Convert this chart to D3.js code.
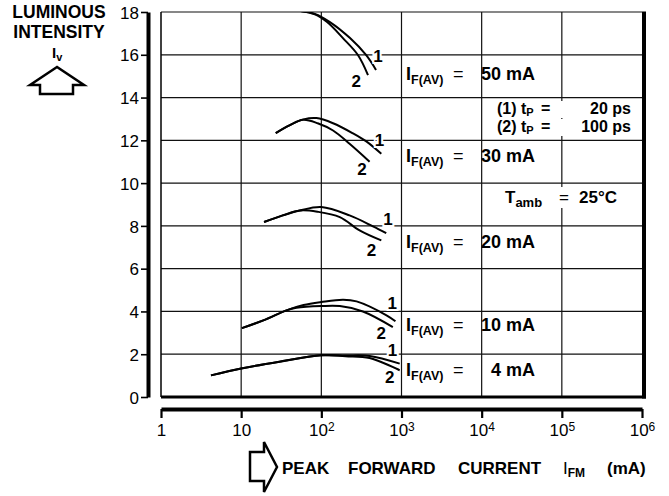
<!DOCTYPE html>
<html>
<head>
<meta charset="utf-8">
<script src="https://cdn.jsdelivr.net/npm/d3@7"></script>
<style>
  body { margin: 0; background: #fff; }
  text { font-family: 'Liberation Sans', Arial, sans-serif; fill: #000; }
</style>
</head>
<body>
<svg id="one" width="669" height="496"></svg>
<script>
// data: [peak forward current mA, luminous intensity]
const yTicks = [0, 2, 4, 6, 8, 10, 12, 14, 16, 18];
const xTicks = [1, 10, 1e2, 1e3, 1e4, 1e5, 1e6];
const xTickLabels = [['1', ''], ['10', ''], ['10', '2'], ['10', '3'], ['10', '4'], ['10', '5'], ['10', '6']];

const currents = ['50', '30', '20', '10', '4'];

const curve50_1 = [[54, 18.05], [83, 17.91], [128, 17.53], [228, 16.78], [361, 15.99], [481, 15.29]];
const curve50_2 = [[54, 18.05], [83, 17.89], [118, 17.53], [186, 16.78], [286, 15.99], [382, 15.05]];
const curve30_1 = [[27, 12.34], [40, 12.7], [60, 12.98], [87, 13.04], [140, 12.8], [250, 12.32], [364, 11.95], [560, 11.37]];
const curve30_2 = [[27, 12.34], [40, 12.7], [59, 12.96], [90, 12.8], [140, 12.46], [225, 11.84], [400, 11.0]];
const curve20_1 = [[19.3, 8.18], [33, 8.49], [54, 8.72], [100, 8.88], [225, 8.49], [440, 7.98], [645, 7.66]];
const curve20_2 = [[19.3, 8.18], [33, 8.49], [54, 8.72], [90, 8.66], [170, 8.41], [300, 7.79], [560, 7.32]];
const curve10_1 = [[10.2, 3.22], [20, 3.62], [36.7, 4.05], [60, 4.3], [100, 4.44], [187, 4.55], [275, 4.47], [650, 3.82], [840, 3.54]];
const curve10_2 = [[10.2, 3.22], [20, 3.62], [36.7, 4.05], [49, 4.17], [100, 4.25], [170, 4.25], [330, 4.0], [780, 3.27]];
const curve4_1 = [[4.2, 1.01], [10, 1.33], [30, 1.65], [100, 1.95], [200, 1.94], [400, 1.92], [950, 1.56]];
const curve4_2 = [[4.2, 1.01], [10, 1.33], [30, 1.65], [100, 1.95], [200, 1.9], [400, 1.82], [950, 1.25]];

// curve number labels: [text, current, intensity]
const curveLabels = [
  ['1', 508, 15.97], ['2', 273, 14.8],
  ['1', 533, 12.0], ['2', 321, 10.67],
  ['1', 676, 8.34], ['2', 421, 6.86],
  ['1', 768, 4.38], ['2', 560, 2.98],
  ['1', 774, 2.18], ['2', 711, 0.93]
];
// I_F(AV) label baselines, in intensity units
const currentLabelLevel = [14.8, 11.0, 6.95, 3.08, 1.0];

const svg = d3.select('#one');

const xScale = d3.scaleLog().domain([1, 1e6]).range([161, 642]);
const yScale = d3.scaleLinear().domain([0, 18]).range([397, 12]);

// grid
svg.append('g').selectAll('line')
    .data(xTicks.slice(1, -1))
    .enter().append('line')
    .attr('x1', d => xScale(d)).attr('x2', d => xScale(d))
    .attr('y1', yScale(0)).attr('y2', yScale(18))
    .style('stroke', '#111').style('stroke-width', 1.2);

svg.append('g').selectAll('line')
    .data(yTicks.slice(1))
    .enter().append('line')
    .attr('x1', xScale(1)).attr('x2', xScale(1e6))
    .attr('y1', d => yScale(d)).attr('y2', d => yScale(d))
    .style('stroke', '#111').style('stroke-width', 1.2);

// frame
svg.append('line')
    .attr('x1', xScale(1)).attr('x2', xScale(1))
    .attr('y1', yScale(18)).attr('y2', yScale(0))
    .style('stroke', '#000').style('stroke-width', 1.5);
svg.append('line')
    .attr('x1', xScale(1e6) + 2).attr('x2', xScale(1e6) + 2)
    .attr('y1', yScale(18) - 0.5).attr('y2', yScale(0) + 1.5)
    .style('stroke', '#000').style('stroke-width', 4);
svg.append('line')
    .attr('x1', xScale(1)).attr('x2', xScale(1e6) + 4)
    .attr('y1', yScale(0)).attr('y2', yScale(0))
    .style('stroke', '#000').style('stroke-width', 3);

// y axis
const yAxis = svg.append('g')
    .attr('transform', 'translate(148,0)')
    .call(d3.axisLeft(yScale).tickValues(yTicks).tickSize(7).tickSizeOuter(0).tickPadding(2));
yAxis.select('.domain').style('stroke', '#000').style('stroke-width', 4);
yAxis.selectAll('.tick line').style('stroke', '#000').style('stroke-width', 1.6);
yAxis.selectAll('.tick text')
    .style('font-size', '17px')
    .attr('dy', '0.36em');

// x axis
const xAxis = svg.append('g')
    .attr('transform', 'translate(0,409)')
    .call(d3.axisBottom(xScale).tickValues(xTicks).tickSize(9).tickSizeOuter(0).tickPadding(6).tickFormat(''));
xAxis.select('.domain').style('stroke', '#000').style('stroke-width', 4);
xAxis.selectAll('.tick line').style('stroke', '#000').style('stroke-width', 2.2);
xAxis.selectAll('.tick text')
    .data(xTickLabels)
    .style('font-size', '17px')
    .attr('dy', '0.71em')
    .each(function(d) {
        const t = d3.select(this);
        t.append('tspan').text(d[0]);
        if (d[1]) t.append('tspan').attr('dy', '-0.4em').style('font-size', '12px').text(d[1]);
    });

// curves
const clip = svg.append('clipPath').attr('id', 'plot');
clip.append('rect')
    .attr('x', xScale(1)).attr('y', yScale(18))
    .attr('width', xScale(1e6) - xScale(1)).attr('height', yScale(0) - yScale(18));

const line = d3.line()
    .x(d => xScale(d[0]))
    .y(d => yScale(d[1]))
    .curve(d3.curveCatmullRom.alpha(0.5));

const curves = [curve50_1, curve50_2, curve30_1, curve30_2, curve20_1, curve20_2,
                curve10_1, curve10_2, curve4_1, curve4_2];

svg.append('g').attr('clip-path', 'url(#plot)')
    .selectAll('path')
    .data(curves)
    .enter().append('path')
    .attr('d', line)
    .style('fill', 'none')
    .style('stroke', '#000')
    .style('stroke-width', 2);

svg.append('g').selectAll('text')
    .data(curveLabels)
    .enter().append('text')
    .attr('x', d => xScale(d[1]))
    .attr('y', d => yScale(d[2]))
    .attr('dy', '0.36em')
    .style('text-anchor', 'middle')
    .style('font-size', '17px')
    .style('font-weight', 'bold')
    .style('stroke', '#fff').style('stroke-width', 4)
    .style('paint-order', 'stroke')
    .text(d => d[0]);

// I_F(AV) labels
const ifLabels = svg.append('g').selectAll('g')
    .data(currents)
    .enter().append('g')
    .attr('transform', (d, i) => 'translate(0,' + yScale(currentLabelLevel[i]) + ')')
    .style('font-weight', 'bold');
ifLabels.append('text')
    .attr('x', 406)
    .style('font-size', '18px')
    .each(function() {
        const t = d3.select(this);
        t.append('tspan').text('I');
        t.append('tspan').attr('dy', 4).style('font-size', '12.5px').text('F(AV)');
        t.append('tspan').attr('x', 453).attr('dy', -4).style('font-weight', 'normal').text('=');
    });
ifLabels.append('text')
    .attr('x', 535)
    .style('text-anchor', 'end')
    .style('font-size', '18px')
    .text(d => d + ' mA');

// pulse width legend
const legendRows = [['(1)', '20 ps'], ['(2)', '100 ps']];
const legend = svg.append('g').selectAll('g')
    .data(legendRows)
    .enter().append('g')
    .attr('transform', (d, i) => 'translate(0,' + (114 + i * 18) + ')')
    .style('font-weight', 'bold')
    .style('font-size', '16px');
legend.append('rect')
    .attr('x', 494).attr('y', -13).attr('width', 140).attr('height', 17)
    .style('fill', '#fff');
legend.append('text')
    .attr('x', 497)
    .each(function(d) {
        const t = d3.select(this);
        t.append('tspan').text(d[0] + ' t');
        t.append('tspan').attr('dy', 2).style('font-size', '11px').text('P');
    });
legend.append('text')
    .attr('x', 541)
    .text('=');
legend.append('text')
    .attr('x', 631)
    .style('text-anchor', 'end')
    .text(d => d[1]);

// ambient temperature
svg.append('rect')
    .attr('x', 502).attr('y', 187).attr('width', 120).attr('height', 21)
    .style('fill', '#fff');
const tamb = svg.append('text')
    .attr('x', 505).attr('y', 203)
    .style('font-weight', 'bold')
    .style('font-size', '17px');
tamb.append('tspan').text('T');
tamb.append('tspan').attr('dy', 4).style('font-size', '13px').text('amb');
tamb.append('tspan').attr('x', 559).attr('dy', -4).style('font-weight', 'normal').text('=');
svg.append('text')
    .attr('x', 617).attr('y', 203)
    .style('text-anchor', 'end')
    .style('font-weight', 'bold')
    .style('font-size', '17px')
    .text('25°C');

// y label
svg.append('text')
    .attr('x', 59).attr('y', 18)
    .style('text-anchor', 'middle')
    .style('font-weight', 'bold')
    .style('font-size', '17.5px')
    .text('LUMINOUS');
svg.append('text')
    .attr('x', 59).attr('y', 38)
    .style('text-anchor', 'middle')
    .style('font-weight', 'bold')
    .style('font-size', '17.5px')
    .text('INTENSITY');
const iv = svg.append('text')
    .attr('x', 52).attr('y', 58)
    .style('font-weight', 'bold')
    .style('font-size', '15px');
iv.append('tspan').text('I');
iv.append('tspan').attr('dy', 3).style('font-size', '11px').text('v');

svg.append('path')
    .attr('d', 'M57,67 L30,85 L40,85 L40,94 L73,94 L73,85 L84,85 Z')
    .style('fill', '#fff')
    .style('stroke', '#000')
    .style('stroke-width', 2.5)
    .style('stroke-linejoin', 'miter');

// x label
svg.append('path')
    .attr('d', 'M250,452 L264,452 L264,442 L277,467 L264,492 L264,481 L250,481 Z')
    .style('fill', '#fff')
    .style('stroke', '#000')
    .style('stroke-width', 2.5);

const xWords = [['PEAK', 282], ['FORWARD', 348], ['CURRENT', 458], ['(mA)', 607]];
svg.append('g').selectAll('text')
    .data(xWords)
    .enter().append('text')
    .attr('x', d => d[1]).attr('y', 474)
    .style('font-weight', 'bold')
    .style('font-size', '17px')
    .text(d => d[0]);
const ifm = svg.append('text')
    .attr('x', 563).attr('y', 474)
    .style('font-weight', 'bold')
    .style('font-size', '17px');
ifm.append('tspan').style('font-weight', 'normal').text('I');
ifm.append('tspan').attr('dy', 3).style('font-size', '12px').text('FM');
</script>
</body>
</html>
